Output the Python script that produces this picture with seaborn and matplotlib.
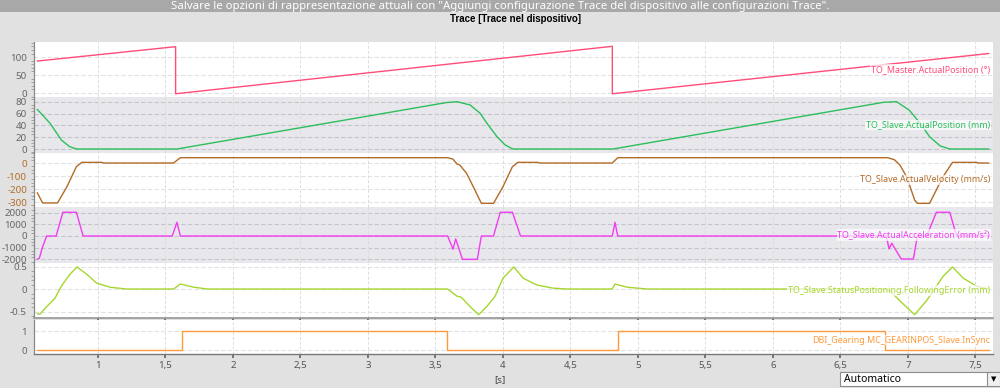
import numpy as np
import pandas as pd
import matplotlib
matplotlib.use("Agg")
import matplotlib.pyplot as plt
import matplotlib.patches as mpatches
from matplotlib.ticker import MultipleLocator, FuncFormatter
import seaborn as sns

sns.set_theme(style="white")
plt.rcParams['font.family'] = ['Noto Sans', 'DejaVu Sans']
plt.rcParams['axes.unicode_minus'] = False

# Trace data (time in s)
master_t = [0.55, 1.575, 1.575, 4.81, 4.81, 7.60]
master_v = [89, 129, -2, 130, -2, 110]

pos_t = [0.55, 0.644, 0.73, 0.79, 0.84, 1.585, 3.58, 3.66, 3.756, 3.83, 3.89, 3.956,
         4.015, 4.074, 4.815, 6.82, 6.916, 7.01, 7.09, 7.16, 7.24, 7.31, 7.60]
pos_v = [67.5, 44, 15, 4, 0, 0, 79, 80.5, 75, 61, 41, 21,
         7, 0, 0, 79.5, 80.5, 66, 44, 21, 5, 0, 0]

vel_t = [0.55, 0.59, 0.70, 0.77, 0.84, 0.88, 1.03, 1.04, 1.56, 1.61,
         3.59, 3.63, 3.66, 3.68, 3.73, 3.78, 3.84, 3.93, 4.00, 4.07, 4.11, 4.26, 4.27, 4.81, 4.85,
         6.85, 6.90, 6.94, 6.99, 7.05, 7.07, 7.16, 7.26, 7.33, 7.51, 7.52, 7.60]
vel_v = [-228, -307, -307, -182, -28, 5, 5, 0, 0, 41,
         41, 30, -8, -15, -79, -182, -310, -310, -182, -28, 5, 5, 0, 0, 41,
         41, 25, -15, -105, -285, -310, -310, -105, 5, 5, 0, 0]

acc_t = [0.55, 0.565, 0.59, 0.62, 0.69, 0.74, 0.84, 0.89, 1.55, 1.585, 1.61,
         3.59, 3.63, 3.65, 3.70, 3.81, 3.84, 3.93, 3.98, 4.07, 4.13, 4.81, 4.83, 4.85,
         6.84, 6.86, 6.88, 6.95, 7.04, 7.07, 7.14, 7.21, 7.31, 7.36, 7.60]
acc_v = [-1985, -1900, -910, 0, 0, 2020, 2020, 0, 0, 1165, 0,
         0, -1130, -250, -1985, -1985, 0, 0, 2020, 2020, 0, 0, 1165, 0,
         0, -1100, -620, -1960, -1960, 0, 0, 2020, 2020, 0, 0]

fe_t = [0.55, 0.57, 0.62, 0.68, 0.73, 0.79, 0.845, 0.92, 0.99, 1.09, 1.21, 1.56, 1.61, 1.71, 1.81,
        3.59, 3.66, 3.69, 3.76, 3.82, 3.88, 3.94, 4.00, 4.08, 4.15, 4.25, 4.37, 4.47,
        4.81, 4.83, 4.92, 5.07, 6.84, 6.87, 6.96, 7.05, 7.14, 7.21, 7.26, 7.33, 7.41, 7.51, 7.60]
fe_v = [-0.55, -0.56, -0.39, -0.21, 0.07, 0.32, 0.49, 0.32, 0.13, 0.04, 0, 0, 0.11, 0.04, 0,
        0, -0.16, -0.18, -0.40, -0.57, -0.39, -0.17, 0.24, 0.49, 0.24, 0.09, 0.02, 0,
        0, 0.11, 0.04, 0, 0, -0.05, -0.32, -0.57, -0.25, 0.06, 0.28, 0.49, 0.24, 0.06, 0.0]

sync_t = [0.55, 1.62, 1.62, 3.585, 3.585, 4.85, 4.85, 6.83, 6.83, 7.60]
sync_v = [0, 0, 1, 1, 0, 0, 1, 1, 0, 0]

x_ticks = [1, 1.5, 2, 2.5, 3, 3.5, 4, 4.5, 5, 5.5, 6, 6.5, 7, 7.5]

# name, t, v, color, ylim, major, minor, shaded, tick label color, px top, px bottom
panels = [
    ("TO_Master.ActualPosition (°)", master_t, master_v, "#ff4d78", (-11, 142), [0, 50, 100], 10, False, "#666666", 42, 97),
    ("TO_Slave.ActualPosition (mm)", pos_t, pos_v, "#2cbf5c", (-6.8, 88.5), [0, 20, 40, 60, 80], 5, True, "#666666", 97, 153),
    ("TO_Slave.ActualVelocity (mm/s)", vel_t, vel_v, "#b36b27", (-338, 77), [-300, -200, -100, 0], 25, False, "#b36b27", 153, 207),
    ("TO_Slave.ActualAcceleration (mm/s²)", acc_t, acc_v, "#f23cf2", (-2300, 2470), [-2000, -1000, 0, 1000, 2000], 250, True, "#666666", 207, 263),
    ("TO_Slave.StatusPositioning.FollowingError (mm)", fe_t, fe_v, "#a6d62e", (-0.644, 0.578), [-0.5, 0, 0.5], 0.1, False, "#666666", 263, 318),
    ("DBI_Gearing.MC_GEARINPOS_Slave.InSync", sync_t, sync_v, "#ff9a3c", (-0.21, 1.58), [0, 1], None, False, "#666666", 320, 354),
]

W, H = 1000, 388
fig = plt.figure(figsize=(10, 3.88), dpi=100, facecolor="#e1e1e1")

# title bar
fig.add_artist(mpatches.Rectangle((0, 1 - 12 / H), 1, 12 / H, transform=fig.transFigure,
                                  facecolor="#a8a8a8", edgecolor="none"))
fig.text(0.5, 1 - 6 / H, 'Salvare le opzioni di rappresentazione attuali con "Aggiungi configurazione Trace del dispositivo alle configurazioni Trace".',
         ha="center", va="center", color="white", fontsize=8.2)
fig.text(0.515, 1 - 19 / H, "Trace [Trace nel dispositivo]", ha="center", va="center",
         color="black", fontsize=7, fontweight="bold", family=["Liberation Sans", "DejaVu Sans"])

x0, x1 = 34 / W, 993 / W
xfmt = FuncFormatter(lambda v, p: f"{v:g}".replace(".", ","))
yfmt = FuncFormatter(lambda v, p: f"{v:g}")

for i, (name, t, v, col, ylim, major, minor, shaded, tcol, ptop, pbot) in enumerate(panels):
    ax = fig.add_axes([x0, 1 - pbot / H, x1 - x0, (pbot - ptop) / H])
    ax.set_facecolor("#e7e7ec" if shaded else "white")
    df = pd.DataFrame({"t": t, "v": v})
    sns.lineplot(data=df, x="t", y="v", ax=ax, color=col, lw=1.0,
                 estimator=None, sort=False)
    ax.set_xlim(0.526, 7.63)
    ax.set_ylim(*ylim)
    ax.set_xlabel("")
    ax.set_ylabel("")
    ax.set_yticks(major)
    ax.yaxis.set_major_formatter(yfmt)
    if minor:
        ax.yaxis.set_minor_locator(MultipleLocator(minor))
    ax.set_xticks(x_ticks)
    ax.xaxis.set_major_formatter(xfmt)
    ax.tick_params(axis="y", which="major", direction="out", length=4, width=0.8,
                   color="#888888", labelsize=7, labelcolor=tcol, pad=1)
    ax.tick_params(axis="y", which="minor", direction="out", length=2, width=0.6,
                   color="#999999", left=True)
    for ys in major:
        ax.axhline(ys, color="#c4c4cc" if shaded else "#e2e2e2", lw=0.8,
                   ls=(0, (4, 2)), zorder=0)
    for xs in x_ticks:
        ax.axvline(xs, color="#dcdcdc", lw=0.7, ls=(0, (3, 2)), zorder=0)
    for s in ["top", "right", "bottom"]:
        ax.spines[s].set_visible(False)
    ax.spines["left"].set_color("#888888")
    ax.spines["left"].set_linewidth(0.9)
    if i == 4:
        ax.spines["bottom"].set_visible(True)
        ax.spines["bottom"].set_color("#999999")
        ax.tick_params(axis="x", direction="out", length=3, color="#666666",
                       bottom=True, labelbottom=False)
    elif i == 5:
        ax.spines["bottom"].set_visible(True)
        ax.spines["bottom"].set_color("#777777")
        ax.spines["bottom"].set_linewidth(1.0)
        ax.tick_params(axis="x", direction="out", length=3, color="#666666",
                       bottom=True, labelsize=7, labelcolor="#555555", pad=2)
    else:
        ax.tick_params(axis="x", bottom=False, labelbottom=False)
    ax.text(0.997, 0.5 if i < 5 else 0.41, name, transform=ax.transAxes, ha="right",
            va="center", color=col, fontsize=6.4,
            bbox=dict(boxstyle="square,pad=0.1", facecolor="white", alpha=0.7, edgecolor="none"))

fig.text(0.5, 1 - 380 / H, "[s]", ha="center", va="center", fontsize=7, color="#444444")

# dropdown
fig.add_artist(mpatches.Rectangle((840 / W, 1 - 386 / H), 160 / W, 14 / H, transform=fig.transFigure,
                                  facecolor="white", edgecolor="#8c8c8c", lw=0.8))
fig.add_artist(mpatches.Rectangle((987 / W, 1 - 386 / H), 13 / W, 14 / H, transform=fig.transFigure,
                                  facecolor="#f0f0f0", edgecolor="#8c8c8c", lw=0.8))
fig.text(844 / W, 1 - 379 / H, "Automatico", ha="left", va="center", fontsize=7.5, color="black")
fig.text(993.5 / W, 1 - 379 / H, "▼", ha="center", va="center", fontsize=5, color="black",
         family="DejaVu Sans")

fig.savefig("out.png", dpi=100, facecolor=fig.get_facecolor())
